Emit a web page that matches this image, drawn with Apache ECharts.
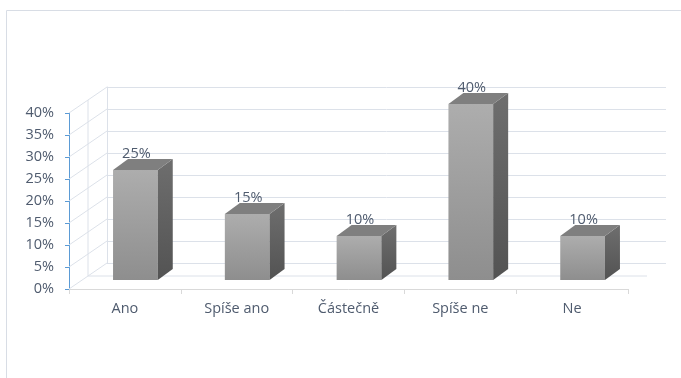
<!DOCTYPE html>
<html><head><meta charset="utf-8">
<script src="https://cdn.jsdelivr.net/npm/echarts@6/dist/echarts.min.js"></script>
<style>html,body{margin:0;padding:0;background:#fff}#c{width:681px;height:378px}</style>
</head><body><div id="c"></div>
<script>
const categories = ['Ano', 'Spíše ano', 'Částečně', 'Spíše ne', 'Ne'];
const shares = [0.25, 0.15, 0.10, 0.40, 0.10];
const yTicks = [0, 0.05, 0.10, 0.15, 0.20, 0.25, 0.30, 0.35, 0.40];

const DEPTH = [38, -26];
const BAR_FRONT = [10.5, -9];
const BAR_DEPTH = [15, -11];
const GRID_COLOR = '#dce1e9';
const TEXT = '#4f5b6e';
const FONT = '"Open Sans", sans-serif';

function pct(v) { return Math.round(v * 100) + '%'; }
const yMin = yTicks[0], yMax = yTicks[yTicks.length - 1];

const chart = echarts.init(document.getElementById('c'), null, {renderer: 'canvas'});

const walls = {
  type: 'custom', xAxisIndex: 0, yAxisIndex: 0, data: [[0, 0]], encode: {x: 0, y: 1},
  silent: true, z: 1,
  renderItem(params, api) {
    const cs = params.coordSys, x0 = cs.x, children = [];
    const ls = {stroke: GRID_COLOR, lineWidth: 1};
    yTicks.forEach(v => {
      const y = api.coord([0, v])[1];
      children.push({type: 'line', shape: {x1: x0, y1: y, x2: x0 + DEPTH[0], y2: y + DEPTH[1]}, style: ls});
    });
    const y0 = api.coord([0, yMin])[1], yT = api.coord([0, yMax])[1];
    const mx = DEPTH[0] / 2, my = DEPTH[1] / 2;
    children.push({type: 'line', shape: {x1: x0 + mx, y1: y0 + my, x2: x0 + mx, y2: yT + my}, style: ls});
    children.push({type: 'line', shape: {x1: x0 + mx, y1: y0 + my, x2: x0 + cs.width + mx, y2: y0 + my}, style: ls});
    return {type: 'group', children};
  }
};

const bars = {
  type: 'custom', xAxisIndex: 0, yAxisIndex: 0,
  data: shares.map((v, i) => [i, v]), encode: {x: 0, y: 1}, z: 3,
  renderItem(params, api) {
    const i = api.value(0), v = api.value(1);
    const base = api.coord([i, 0]), top = api.coord([i, v]);
    const bw = api.size([1, 0])[0] * 0.4;
    const xl = base[0] - bw / 2 + BAR_FRONT[0], xr = xl + bw;
    const yb = base[1] + BAR_FRONT[1], yt = top[1] + BAR_FRONT[1];
    const dx = BAR_DEPTH[0], dy = BAR_DEPTH[1];
    return {type: 'group', children: [
      {type: 'rect', shape: {x: xl, y: yt, width: bw, height: yb - yt},
        style: {fill: new echarts.graphic.LinearGradient(0, 0, 0, 1, [{offset: 0, color: '#adadad'}, {offset: 1, color: '#8e8e8e'}])}},
      {type: 'polygon', shape: {points: [[xr, yt], [xr + dx, yt + dy], [xr + dx, yb + dy], [xr, yb]]},
        style: {fill: new echarts.graphic.LinearGradient(0, 0, 0, 1, [{offset: 0, color: '#6e6e6e'}, {offset: 1, color: '#535353'}])}},
      {type: 'polygon', shape: {points: [[xl, yt], [xl + dx, yt + dy], [xr + dx, yt + dy], [xr, yt]]},
        style: {fill: '#7f7f7f'}},
      {type: 'text', style: {text: pct(v), x: (xl + xr) / 2 + 1, y: yt + dy - 5, align: 'center', verticalAlign: 'middle',
        fill: TEXT, fontSize: 14.5, fontFamily: FONT}}
    ]};
  }
};

chart.setOption({
  animation: false,
  graphic: [{type: 'rect', shape: {x: 6.5, y: 10.5, width: 800, height: 500},
    style: {fill: null, stroke: '#d8dde5', lineWidth: 1}, z: -10, silent: true}],
  grid: [
    {left: 69, right: 53, top: 113, bottom: 89},
    {left: 107, right: 15, top: 87, bottom: 115}
  ],
  xAxis: [
    {type: 'category', gridIndex: 0, data: categories,
      axisLine: {lineStyle: {color: '#d9d9d9'}},
      axisTick: {show: true, length: 5, lineStyle: {color: '#d9d9d9'}},
      axisLabel: {color: TEXT, fontSize: 14.5, fontFamily: FONT, margin: 12}},
    {type: 'category', gridIndex: 1, data: categories, show: false}
  ],
  yAxis: [
    {type: 'value', gridIndex: 0, min: yMin, max: yMax, interval: 0.05,
      axisLine: {show: true, lineStyle: {color: '#5b9bd5'}},
      axisTick: {show: true, length: 4, lineStyle: {color: '#5b9bd5'}},
      splitLine: {show: false},
      axisLabel: {formatter: pct, color: TEXT, fontSize: 14.5, fontFamily: FONT, margin: 15}},
    {type: 'value', gridIndex: 1, min: yMin, max: yMax, interval: 0.05,
      axisLine: {show: true, lineStyle: {color: GRID_COLOR}},
      axisTick: {show: false}, axisLabel: {show: false},
      splitLine: {show: true, lineStyle: {color: GRID_COLOR}}}
  ],
  series: [walls, bars]
});
</script>
</body></html>
